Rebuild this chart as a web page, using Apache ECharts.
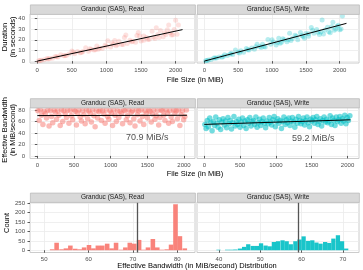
<!DOCTYPE html>
<html><head><meta charset="utf-8">
<script src="https://cdn.jsdelivr.net/npm/echarts@6/dist/echarts.min.js"></script>
<style>html,body{margin:0;padding:0;background:#fff}#c{width:363px;height:270px}</style>
</head><body><div id="c"></div>
<script>
// ---------- data ----------
const facetLabels = ["Granduc (SAS), Read", "Granduc (SAS), Write"];
const sizeTicks = [0, 500, 1000, 1500, 2000];
const durTicks = [0, 10, 20, 30, 40];
const bwTicks = [0, 20, 40, 60, 80];
const countTicks = [0, 50, 100, 150, 200, 250];
const readHistTicks = [50, 60, 70, 80];
const writeHistTicks = [40, 50, 60, 70];

// Row 1: duration vs file size
const durSizes = [20,60,100,140,180,220,260,300,340,380,420,460,500,540,580,620,660,700,740,780,
  820,860,900,940,980,1020,1060,1100,1140,1180,1220,1260,1300,1340,1380,1420,1460,1500,1540,1580,
  1620,1660,1700,1740,1780,1820,1860,1900,1940,1980,2020,2040,
  40,160,280,400,520,640,760,880,1000,1120,1240,1360,1480,1600,1720,1840,1960,2000,1280,1440,
  1680,1760,1880,1920,1540,1080,1160,840];
const readDur = [0.25,0.9,1.27,2.5,2.5,2.75,4.2,3.8,5.9,5.1,5.25,6.7,9.6,6.8,9.1,7.8,9.0,12.5,9.25,11.1,
  10.4,14.3,12.2,11.9,14.8,19.2,13.25,15.5,14.4,18.7,15.6,22.1,16.5,19.7,18.6,17.75,27.0,19.0,23.7,22.3,
  20.5,28.1,21.25,24.9,28.7,23.0,25.1,33.9,24.6,29.6,25.25,34.0,
  0.53,2.0,4.0,5.1,8.5,8.0,11.5,11.1,13.9,19.3,15.5,18.1,23.5,20.3,31.3,26.7,24.8,38.5,24.6,24.0,
  22.7,22.3,29.4,26.7,19.5,16.9,15.5,10.6];
const writeDur = [0.33,1.13,1.47,3.0,2.9,3.9,3.7,6.0,5.3,6.6,6.3,10.5,8.2,9.8,8.4,11.9,10.5,12.3,11.2,15.9,
  13.7,15.9,13.2,20.4,15.8,17.9,15.1,21.6,17.8,20.0,18.2,26.3,21.3,24.4,20.0,26.8,23.2,25.9,23.3,31.6,
  26.1,29.6,25.0,38.7,29.2,31.9,26.6,36.5,30.3,33.6,30.1,42.5,
  0.65,2.8,4.2,7.4,7.6,10.7,13.6,13.75,20.0,16.7,20.0,23.4,21.4,29.1,27.3,27.5,32.7,29.4,19.4,24.0,
  27.1,25.5,32.4,29.1,25.7,17.4,21.1,12.7];
const durFitX = [0, 2100];
const readDurFit = [0, 29.6];
const writeDurFit = [0, 35.5];

// Row 2: effective bandwidth vs file size
const bwSizes = [8,25,41,57,76,92,109,125,143,160,
  177,193,210,228,244,262,279,295,312,330,
  346,363,380,398,414,431,448,465,482,499,
  516,533,550,567,584,601,618,635,652,669,
  686,703,720,737,754,771,788,805,822,839,
  856,873,890,907,924,941,958,975,992,1009,
  1026,1043,1060,1077,1094,1111,1128,1145,1162,1179,
  1196,1213,1230,1247,1264,1281,1298,1315,1332,1349,
  1366,1383,1400,1417,1434,1451,1468,1485,1502,1519,
  1536,1553,1570,1587,1604,1621,1638,1655,1672,1689,
  1706,1723,1740,1757,1774,1791,1808,1825,1842,1859,
  1876,1893,1910,1927,1944,1961,1978,1995,2012,2032];
const readBw = [79,62,80,71,55,78,74,66,80,52,
  79,69,58,80,76,64,79,71,53,80,
  60,79,73,67,80,57,79,70,63,81,
  78,54,75,80,68,61,79,72,56,80,
  65,79,74,59,80,70,51,79,66,77,
  80,62,79,73,57,80,69,64,79,75,
  53,80,71,60,79,67,78,74,56,80,
  79,63,70,80,58,76,79,65,52,80,
  72,79,61,80,69,55,79,74,66,80,
  78,59,73,80,64,70,79,54,67,80,
  79,71,62,80,75,57,79,68,60,80,
  74,79,65,80,53,72,79,63,69,80];
const writeBw = [55,48,62,51,66,58,44,60,53,68,
  57,50,63,46,59,65,54,61,49,67,
  56,62,47,58,69,52,60,55,64,50,
  59,66,53,61,48,63,57,67,52,60,
  62,55,68,50,58,64,53,60,66,57,
  49,61,56,67,59,54,63,69,51,60,
  65,57,62,48,60,68,55,63,58,66,
  53,61,67,59,50,64,57,69,62,56,
  60,66,54,62,68,58,51,64,61,67,
  57,63,69,55,60,65,52,62,68,59,
  64,58,61,70,55,66,62,53,68,60,
  63,69,57,65,61,71,56,67,62,70];
const bwFitX = [0, 2040];
const readBwFit = [70.4, 70.9];
const writeBwFit = [55, 63];
const bwLabels = ["70.9 MiB/s", "59.2 MiB/s"];
const bwLabelX = [1500, 1520];
const bwLabelY = [32.5, 30];

// Row 3: histograms of effective bandwidth
const readMean = 70.9;
const writeMean = 59.2;
const binWidth = 1.03;
const readBinCenters = [51.8,52.8,53.9,54.9,55.9,57.0,58.0,59.0,60.1,61.1,62.1,63.1,64.2,65.2,66.2,
  67.3,68.3,69.3,70.3,71.4,72.4,73.4,74.5,75.5,76.5,77.6,78.6,79.6,80.6,81.7];
const readCounts = [5,40,5,10,25,8,5,15,28,10,25,25,35,10,40,3,15,40,35,55,3,15,60,15,3,5,30,245,75,10];
const writeBinCenters = [39.9,41.0,42.0,43.0,44.0,45.1,46.1,47.1,48.2,49.2,50.2,51.3,52.3,53.3,54.3,
  55.4,56.4,57.4,58.5,59.5,60.5,61.6,62.6,63.6,64.6,65.7,66.7,67.7,68.8,69.8,70.8];
const writeCounts = [3,0,3,3,4,9,18,32,23,23,37,25,21,44,48,53,48,32,48,57,74,50,53,41,35,44,39,62,80,48,9];

// ---------- styling / layout ----------
const FONT = "Liberation Sans";
const RED = "#F8766D", CYAN = "#00BFC4";
const LX = 30, LW = 165, RX = 197, RW = 162;
const rows = [
  {top: 14, h: 49, stripTop: 4.5},
  {top: 107.5, h: 51, stripTop: 98.3},
  {top: 202, h: 50.5, stripTop: 192.7}
];

const zip = (xs, ys) => xs.map((x, i) => [x, ys[i]]);

const grids = [];
rows.forEach(r => {
  [[LX, LW], [RX, RW]].forEach(([l, w]) => grids.push({
    left: l, top: r.top, width: w, height: r.h, show: true,
    borderColor: "#CCCCCC", borderWidth: 1, backgroundColor: "#FFFFFF", containLabel: false
  }));
});

function axisCfg(kind, gi, min, max, ticks, showLabels) {
  return {
    type: "value", gridIndex: gi, min: min, max: max, scale: true,
    axisLine: {show: false},
    axisTick: {show: showLabels, customValues: ticks, length: 2.5, lineStyle: {color: "#333", width: 0.8}},
    axisLabel: {show: showLabels, customValues: ticks, color: "#4D4D4D", fontSize: 6, fontFamily: FONT,
      margin: kind === "x" ? 4 : 5, formatter: v => String(v)},
    splitLine: {show: true, lineStyle: {color: "#EBEBEB", width: 0.8}},
    minorSplitLine: {show: false}
  };
}

const xAxes = [
  axisCfg("x", 0, -105, 2280, sizeTicks, true),
  axisCfg("x", 1, -108, 2285, sizeTicks, true),
  axisCfg("x", 2, -100, 2150, sizeTicks, true),
  axisCfg("x", 3, -102, 2160, sizeTicks, true),
  axisCfg("x", 4, 46.8, 84, readHistTicks, true),
  axisCfg("x", 5, 34.7, 73.9, writeHistTicks, true)
];
const yAxes = [
  axisCfg("y", 0, -1.8, 44.3, durTicks, true),
  axisCfg("y", 1, -1.8, 44.3, durTicks, false),
  axisCfg("y", 2, -4.5, 84.5, bwTicks, true),
  axisCfg("y", 3, -4.5, 84.5, bwTicks, false),
  axisCfg("y", 4, -12, 257, countTicks, true),
  axisCfg("y", 5, -12, 257, countTicks, false)
];

function scatter(gi, data, color, size, opacity) {
  return {type: "scatter", xAxisIndex: gi, yAxisIndex: gi, data: data, symbol: "circle",
    symbolSize: size, itemStyle: {color: color, opacity: opacity}, silent: true, z: 2};
}
function fitLine(gi, xs, ys) {
  return {type: "line", xAxisIndex: gi, yAxisIndex: gi, data: zip(xs, ys), showSymbol: false,
    lineStyle: {color: "#000", width: 1}, z: 5, silent: true};
}
function textMark(gi, x, y, text) {
  return {type: "scatter", xAxisIndex: gi, yAxisIndex: gi, data: [[x, y]], symbolSize: 0, z: 6,
    label: {show: true, position: "inside", formatter: text, color: "#222", fontSize: 9, fontFamily: FONT},
    silent: true};
}
function hist(gi, centers, counts, color, mean) {
  return {
    type: "custom", xAxisIndex: gi, yAxisIndex: gi, data: zip(centers, counts), z: 3, silent: true,
    renderItem: function (params, api) {
      const c = api.value(0), v = api.value(1);
      const p0 = api.coord([c - binWidth / 2, v]);
      const p1 = api.coord([c + binWidth / 2, 0]);
      return {type: "rect", shape: {x: p0[0], y: p0[1], width: p1[0] - p0[0], height: p1[1] - p0[1]},
        style: {fill: color, opacity: 0.9}};
    },
    markLine: {symbol: "none", silent: true, label: {show: false},
      lineStyle: {color: "#555", width: 1.3, type: "solid"}, data: [{xAxis: mean}]}
  };
}

const series = [
  scatter(0, zip(durSizes, readDur), RED, 5, 0.22),
  fitLine(0, durFitX, readDurFit),
  scatter(1, zip(durSizes, writeDur), CYAN, 5, 0.28),
  fitLine(1, durFitX, writeDurFit),
  scatter(2, zip(bwSizes, readBw), RED, 5.5, 0.5),
  fitLine(2, bwFitX, readBwFit),
  textMark(2, bwLabelX[0], bwLabelY[0], bwLabels[0]),
  scatter(3, zip(bwSizes, writeBw), CYAN, 5.5, 0.55),
  fitLine(3, bwFitX, writeBwFit),
  textMark(3, bwLabelX[1], bwLabelY[1], bwLabels[1]),
  hist(4, readBinCenters, readCounts, RED, readMean),
  hist(5, writeBinCenters, writeCounts, CYAN, writeMean)
];

// strips and axis titles
const graphic = [];
rows.forEach(r => {
  [[LX, LW, facetLabels[0]], [RX, RW, facetLabels[1]]].forEach(([l, w, t]) => {
    graphic.push({type: "rect", left: l, top: r.stripTop, shape: {width: w, height: r.top - r.stripTop},
      style: {fill: "#D9D9D9", stroke: "#BBBBBB", lineWidth: 0.8}, z: 10});
    graphic.push({type: "text", x: l + w / 2, y: r.stripTop + (r.top - r.stripTop) / 2 + 0.3, z: 11,
      style: {text: t, fontSize: 6.5, fontFamily: FONT, fill: "#1A1A1A", align: "center", verticalAlign: "middle"}});
  });
});
function title(x, y, text, rot) {
  return {type: "text", x: x, y: y, rotation: rot ? Math.PI / 2 : 0, z: 11,
    style: {text: text, fontSize: 7.5, lineHeight: 8, fontFamily: FONT, fill: "#000",
      align: "center", verticalAlign: "middle"}};
}
graphic.push(title(195, 80, "File Size (in MiB)"));
graphic.push(title(195, 174.3, "File Size (in MiB)"));
graphic.push(title(197, 266, "Effective Bandwidth (in MiB/second) Distribution"));
graphic.push(title(9.3, 37, "Duration\n(in seconds)", true));
graphic.push(title(9.3, 130, "Effective Bandwidth\n(in MiB/second)", true));
graphic.push(title(7, 223, "Count", true));

const chart = echarts.init(document.getElementById("c"), null, {renderer: "canvas"});
chart.setOption({
  animation: false,
  grid: grids, xAxis: xAxes, yAxis: yAxes, series: series, graphic: graphic
});
</script></body></html>
